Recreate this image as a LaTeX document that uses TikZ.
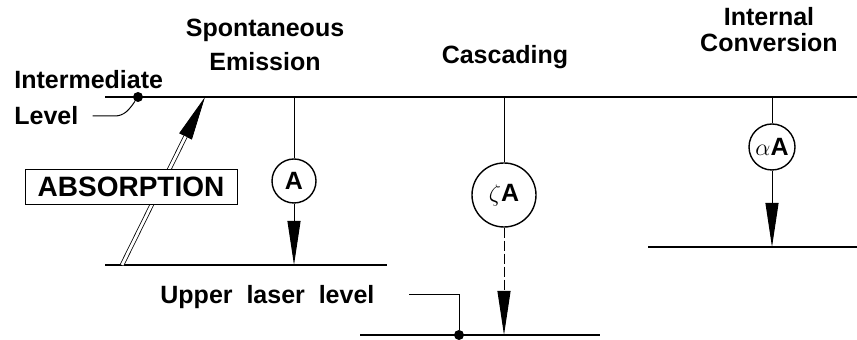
\documentclass[tikz,border=0pt]{standalone}
\usepackage{fontspec}
\setmainfont{Liberation Sans}
\usetikzlibrary{arrows.meta}
\begin{document}
\begin{tikzpicture}
		[x=0.5pt,y=-0.5pt,
		textstyle/.style={font=\bfseries\fontsize{12.5}{15}\selectfont,inner sep=0pt,align=center},
		rate/.style={circle,draw,line width=0.7pt,fill=white,inner sep=0pt,
font=\bfseries\fontsize{12.5}{15}\selectfont},
		level/.style={line width=1pt},
		decay/.style={-{Triangle[length=22pt,width=6.5pt]},line width=0.5pt,shorten >=0pt},
		marker/.style={circle,fill,inner sep=0pt,minimum size=5pt}]
		\useasboundingbox (0,0) rectangle (857,340);
		% energy levels
		\coordinate (top1) at (105,97);   \coordinate (top2) at (857,97);
		\coordinate (low1) at (105,265);  \coordinate (low2) at (387,265);
		\coordinate (las1) at (360,335);  \coordinate (las2) at (600,335);
		\coordinate (int1) at (648,247);  \coordinate (int2) at (857,247);
		\draw[level] (top1) -- (top2);
		\draw[level] (low1) -- (low2);
		\draw[level] (las1) -- (las2);
		\draw[level] (int1) -- (int2);
		% transitions
		\coordinate (sTop) at (294,97);  \coordinate (sBot) at (294,265);
		\coordinate (cTop) at (504,97);  \coordinate (cBot) at (504,335);
		\coordinate (iTop) at (772,97);  \coordinate (iBot) at (772,247);
		\node at (294,181) (spont) [rate,minimum size=22pt] {A}
			edge [line width=0.5pt] (sTop)
			edge [decay] (sBot);
		\node at (504,195) (casc) [rate,minimum size=32pt] {$\zeta$A}
			edge [line width=0.5pt] (cTop)
			edge [decay,dash pattern=on 5pt off 1.5pt] (cBot);
		\node at (772,147) (conv) [rate,minimum size=23pt] {$\alpha$A}
			edge [line width=0.5pt] (iTop)
			edge [decay] (iBot);
		% absorption
		\coordinate (absBot) at (122,265);
		\coordinate (absTop) at (205,97);
		\draw[-{Triangle[length=22pt,width=7pt]},line width=0.4pt] (absBot) -- (absTop);
		\draw[double,double distance=1.4pt,line width=0.4pt,shorten >=22pt] (absBot) -- (absTop);
		\node at (131,187) (abs) [draw,fill=white,line width=0.4pt,inner sep=0pt,
minimum width=106pt,minimum height=17.5pt,font=\bfseries\fontsize{14}{16}\selectfont] {ABSORPTION};
		% level labels
		\node at (138,97) (idot) [marker] {};
		\node at (459,335) (udot) [marker] {};
		\node at (14,80) (inter) [textstyle,anchor=west] {Intermediate};
		\node at (14,116) (lvl) [textstyle,anchor=west] {Level};
		\draw[line width=0.5pt] ([xshift=7pt]lvl.east) -- ++(22,0) to[out=0,in=235] (idot);
		\node at (160,297) (upper) [textstyle,anchor=west] {Upper\ \ laser\ \ level};
		\coordinate (upLead) at (409,295);
		\draw[line width=0.5pt] (upLead) -| (udot);
		% process labels
		\node at (265,45) (spl) [textstyle] {Spontaneous\\[2pt]Emission};
		\node at (505,57) (csl) [textstyle] {Cascading};
		\node at (769,30) (icl) [textstyle] {Internal\\[-2pt]Conversion};
	\end{tikzpicture}
\end{document}
